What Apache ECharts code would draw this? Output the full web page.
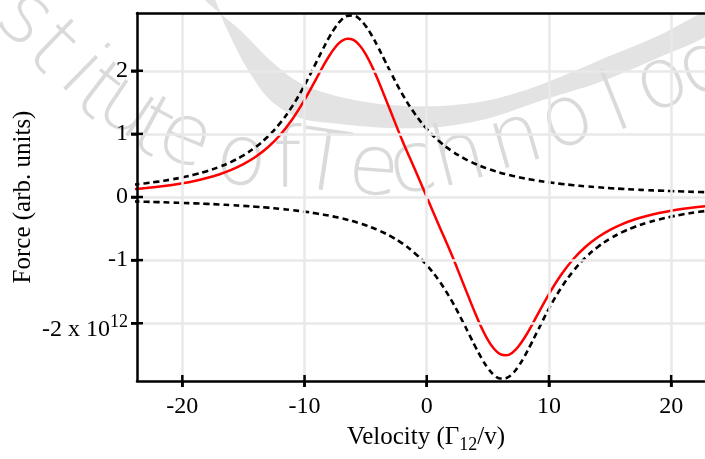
<!DOCTYPE html>
<html><head><meta charset="utf-8">
<script src="https://cdn.jsdelivr.net/npm/echarts@6/dist/echarts.min.js"></script>
<style>html,body{margin:0;padding:0;background:#fff}#c{width:705px;height:459px}</style>
</head><body><div id="c"></div>
<script>
// ---- data ----
const velocity = [-24,-23,-22,-21,-20,-19,-18,-17,-16,-15,-14,-13,-12,-11,-10,-9,
  -8.5,-8,-7.5,-7,-6.5,-6,-5.5,-5,-4.5,-4,-3.5,-3,
  -2,-1,0,1,2,3,
  3.5,4,4.5,5,5.5,6,6.5,7,7.5,8,8.5,
  9,10,11,12,13,14,15,16,17,18,19,20,21,22,23];
const forcePlus = [0.195,0.217,0.243,0.274,0.311,0.355,0.409,0.475,0.557,0.660,0.791,0.958,1.171,1.440,1.770,2.149,
  2.342,2.525,2.683,2.802,2.869,2.875,2.820,2.711,2.559,2.380,2.188,1.994,
  1.631,1.325,1.079,0.886,0.735,0.616,
  0.567,0.522,0.483,0.447,0.415,0.386,0.360,0.336,0.315,0.295,0.278,
  0.261,0.232,0.208,0.187,0.169,0.154,0.140,0.129,0.118,0.109,0.101,0.094,0.087,0.081,0.076];
const forceMinus = [-0.071,-0.076,-0.081,-0.087,-0.094,-0.101,-0.109,-0.118,-0.129,-0.140,-0.154,-0.169,-0.187,-0.208,-0.232,-0.261,
  -0.278,-0.295,-0.315,-0.336,-0.360,-0.386,-0.415,-0.447,-0.483,-0.522,-0.567,-0.616,
  -0.735,-0.886,-1.079,-1.325,-1.631,-1.994,
  -2.188,-2.380,-2.559,-2.711,-2.820,-2.875,-2.869,-2.802,-2.683,-2.525,-2.342,
  -2.149,-1.770,-1.440,-1.171,-0.958,-0.791,-0.660,-0.557,-0.475,-0.409,-0.355,-0.311,-0.274,-0.243,-0.217];
const forceTotal = [0.124,0.142,0.162,0.187,0.217,0.254,0.300,0.357,0.429,0.520,0.637,0.788,0.983,1.232,1.538,1.888,
  2.065,2.230,2.368,2.466,2.509,2.489,2.405,2.264,2.077,1.858,1.621,1.378,
  0.896,0.450,0.000,-0.450,-0.896,-1.378,
  -1.621,-1.858,-2.077,-2.264,-2.405,-2.489,-2.509,-2.466,-2.368,-2.230,-2.065,
  -1.888,-1.538,-1.232,-0.983,-0.788,-0.637,-0.520,-0.429,-0.357,-0.300,-0.254,-0.217,-0.187,-0.162,-0.142];
const xTicks = [-20,-10,0,10,20];
const yTicks = [-2,-1,0,1,2];
const xRange = [-23.71, 22.77];
const yRange = [-2.915, 2.915];

// background watermark letters ("…stitute of Technolog…" as visible)
const wmChars = ['s','t','i','t','u','t','e','o','f','T','e','c','h','n','o','l','o','g'];

const FONT = '"Liberation Serif","Times New Roman",serif';
const pairs = arr => velocity.map((v, i) => [v, arr[i]]);

// ---- watermark (decorative background) ----
const graphics = [];
(function(){
  const bandUpper = [[200,-5],[240,30],[270,60],[300,83],[340,97],[390,105],[440,106],[490,100],[540,85],[600,60],[660,35],[712,10]];
  const bandLower = [[712,32],[660,57],[600,82],[540,101],[490,118],[440,127],[390,128],[340,124],[300,118],[270,100],[245,65],[225,25],[212,-5]];
  graphics.push({type:'polygon', silent:true, z:-10, shape:{points: bandUpper.concat(bandLower), smooth:0.3}, style:{fill:'#e3e3e3'}});
  const pos = [[20,24],[50,50],[76,78],[96,95],[123,114],[151,132],[182,146],[240,168],[287,165],[324,168],[373,178],[414,175],[460,160],[518,148],[570,128],[617,108],[665,90],[705,70]];
  const font = '200 84px "DejaVu Sans"';
  const lowX = 'aceimnorsuvwxz';
  wmChars.forEach((ch, i) => {
    const p = pos[Math.max(0, i-1)], n = pos[Math.min(pos.length-1, i+1)];
    const a = Math.atan2(n[1]-p[1], n[0]-p[0]);
    const up = lowX.indexOf(ch) >= 0 ? 6 : 0;
    graphics.push({type:'text', silent:true, z:-9,
      x: pos[i][0] + up*Math.sin(a), y: pos[i][1] - up*Math.cos(a), rotation: -a,
      style:{text: ch, font: font, fill:'#dadada', align:'center', verticalAlign:'middle'}});
  });
})();

const chart = echarts.init(document.getElementById('c'), null, {renderer:'canvas'});
const axisLineStyle = {color:'#000', width:2.5};
const tickStyle = {color:'#000', width:2.5};
chart.setOption({
  animation:false,
  backgroundColor:'#fff',
  graphic: graphics,
  grid:{left:137, right:0, top:13, bottom:75, containLabel:false},
  xAxis:[
    {type:'value', min:xRange[0], max:xRange[1], position:'bottom', z:10,
     splitLine:{show:false},
     axisLine:{show:true, onZero:false, lineStyle:axisLineStyle},
     axisTick:{show:true, length:6, lineStyle:tickStyle, customValues:xTicks},
     axisLabel:{customValues:xTicks, margin:14, color:'#000', fontFamily:FONT, fontSize:24},
     name:'Velocity (\u0393{sub|12}/v)', nameLocation:'middle', nameGap:39, nameMoveOverlap:false,
     nameTextStyle:{color:'#000', fontFamily:FONT, fontSize:25, padding:[0,0,0,10],
       rich:{sub:{fontFamily:FONT, fontSize:18, color:'#000', padding:[16,0,0,0]}}}},
    {type:'value', min:xRange[0], max:xRange[1], position:'top', z:10,
     splitLine:{show:false}, axisLine:{show:true, onZero:false, lineStyle:axisLineStyle}, axisLabel:{show:false}, axisTick:{show:false}}
  ],
  yAxis:[
    {type:'value', min:yRange[0], max:yRange[1], position:'left', z:10,
     splitLine:{show:false},
     axisLine:{show:true, onZero:false, lineStyle:axisLineStyle},
     axisTick:{show:true, length:6, lineStyle:tickStyle, customValues:yTicks},
     axisLabel:{customValues:yTicks, margin:9, color:'#000', fontFamily:FONT, fontSize:24,
       formatter: v => (Math.round(v) === -2 ? '{b|-2 x 10}{sup|12}' : String(Math.round(v))),
       rich:{b:{fontFamily:FONT, fontSize:24, color:'#000', lineHeight:24, padding:[12,0,0,0]},
             sup:{fontFamily:FONT, fontSize:18, color:'#000', verticalAlign:'top', padding:[2,0,0,0]}}},
     name:'Force (arb. units)', nameLocation:'middle', nameGap:101, nameMoveOverlap:false,
     nameTextStyle:{color:'#000', fontFamily:FONT, fontSize:25}}
  ],
  series:[
    {type:'line', data:[], z:1, silent:true,
     markLine:{silent:true, symbol:'none', label:{show:false}, animation:false,
       lineStyle:{color:'#e9e9e9', width:2.5, type:'solid'},
       data: xTicks.map(v => ({xAxis:v})).concat(yTicks.map(v => ({yAxis:v})))}},
    {name:'F+', type:'line', data:pairs(forcePlus), smooth:0.4, showSymbol:false, z:3,
     lineStyle:{color:'#000', width:2.6, type:[6,4]}},
    {name:'F-', type:'line', data:pairs(forceMinus), smooth:0.4, showSymbol:false, z:3,
     lineStyle:{color:'#000', width:2.6, type:[6,4]}},
    {name:'F', type:'line', data:pairs(forceTotal), smooth:0.4, showSymbol:false, z:4,
     lineStyle:{color:'#ff0000', width:2.5}}
  ]
});

// tick marks crossing the axis lines, positioned through the chart's own scales
const tickEls = [];
const gridFinder = {gridIndex:0};
xTicks.forEach(v => {
  const p = chart.convertToPixel(gridFinder, [v, yRange[0]]);
  if (p && isFinite(p[0])) tickEls.push({type:'rect', silent:true, z:100,
    shape:{x:p[0]-1.25, y:p[1]-6, width:2.5, height:12}, style:{fill:'#000'}});
});
yTicks.forEach(v => {
  const p = chart.convertToPixel(gridFinder, [xRange[0], v]);
  if (p && isFinite(p[1])) tickEls.push({type:'rect', silent:true, z:100,
    shape:{x:p[0]-6, y:p[1]-1.25, width:12, height:2.5}, style:{fill:'#000'}});
});
chart.setOption({graphic: graphics.concat(tickEls)});
</script></body></html>
